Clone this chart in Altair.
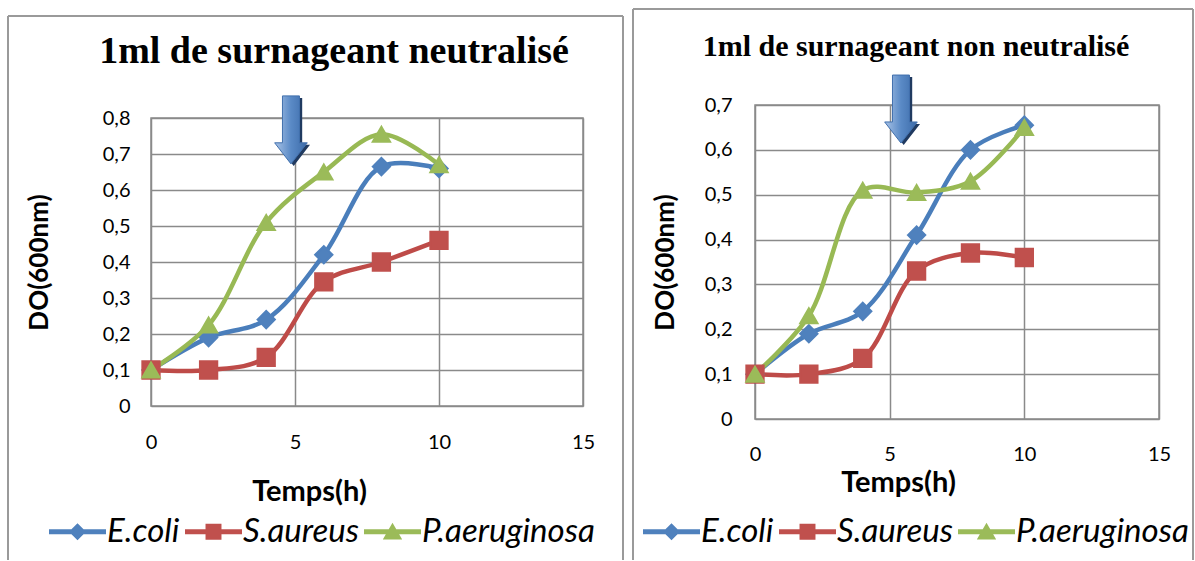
import altair as alt
import pandas as pd

# ---------------- data ----------------
times = [0, 2, 4, 6, 8, 10]
series = ["E.coli", "S.aureus", "P.aeruginosa"]

left_ecoli = [0.10, 0.19, 0.24, 0.42, 0.665, 0.66]
left_saureus = [0.10, 0.10, 0.135, 0.345, 0.40, 0.46]
left_paerug = [0.10, 0.225, 0.51, 0.65, 0.755, 0.67]

right_ecoli = [0.10, 0.19, 0.24, 0.41, 0.60, 0.655]
right_saureus = [0.10, 0.10, 0.135, 0.33, 0.37, 0.36]
right_paerug = [0.10, 0.23, 0.51, 0.505, 0.53, 0.65]

left_title = "1ml de surnageant neutralisé"
right_title = "1ml de surnageant non neutralisé"
x_title = "Temps(h)"
y_title = "DO(600nm)"

x_ticks = [0, 5, 10, 15]
left_y_ticks = [0, 0.1, 0.2, 0.3, 0.4, 0.5, 0.6, 0.7, 0.8]
right_y_ticks = [0, 0.1, 0.2, 0.3, 0.4, 0.5, 0.6, 0.7]

# arrow annotation (time, DO) where the arrow sits
left_arrow = [4.86, 0.767]
right_arrow = [5.42, 0.691]

# ---------------- styles ----------------
line_colors = ["#4A7EBB", "#BE4B48", "#98B954"]
marker_colors = ["#4F81BD", "#C0504D", "#9BBB59"]
marker_shapes = ["diamond", "square", "triangle-up"]
bar = "M-1,-0.09L1,-0.09L1,0.09L-1,0.09Z "
legend_shapes = [
    bar + "M-0.3,0L0,-0.3L0.3,0L0,0.3Z",
    bar + "M-0.28,-0.28L0.28,-0.28L0.28,0.28L-0.28,0.28Z",
    bar + "M0,-0.32L0.34,0.27L-0.34,0.27Z",
]
arrow_path = "M-0.25,-1L0.25,-1L0.25,0.38L0.48,0.38L0,1L-0.48,0.38L-0.25,0.38Z"
shadow_path = "M-0.17,-0.94L0.33,-0.94L0.33,0.44L0.56,0.44L0.08,1.06L-0.40,0.44L-0.17,0.44Z"
GRID = "#8a8a8a"
FRAME = "#9a9a9a"
FONT = "Lato"


def build_df(ec, sa, pa):
    rows = []
    for name, vals in zip(series, [ec, sa, pa]):
        for t, v in zip(times, vals):
            rows.append({"t": t, "v": v, "series": name})
    return pd.DataFrame(rows)


def panel(df, ymax, yticks, w, h, title, title_size, title_x, title_y,
          ylab_pad, ytitle_x, xlab_pad, xtitle_x, xtitle_y, legend_x, legend_y,
          arrow, arrow_size, frame):
    xs = alt.Scale(domain=[0, 15], nice=False, zero=False)
    ys = alt.Scale(domain=[0, ymax], nice=False, zero=True)
    xaxis = alt.Axis(values=x_ticks, tickCount=len(x_ticks), grid=True, gridColor=GRID,
                     gridWidth=1.5, domain=False, ticks=False, labelFont=FONT,
                     labelFontSize=20, labelColor="black", labelPadding=xlab_pad,
                     labelFlush=False, labelOverlap=False, title=x_title, titleFont=FONT,
                     titleFontSize=29, titleFontWeight="bold", titleColor="black",
                     titleX=xtitle_x, titleY=xtitle_y, titleBaseline="middle",
                     titleAlign="center")
    yaxis = alt.Axis(values=yticks, tickCount=len(yticks), grid=True, gridColor=GRID,
                     gridWidth=1.5, domain=False, ticks=False, labelFont=FONT,
                     labelFontSize=20, labelColor="black", labelPadding=ylab_pad,
                     labelFlush=False, labelOverlap=False,
                     labelExpr="replace(format(datum.value, '.1~f'), '.', ',')",
                     title=y_title, titleFont=FONT, titleFontSize=26,
                     titleFontWeight="bold", titleColor="black", titleX=ytitle_x,
                     titleY=h / 2, titleAngle=270, titleBaseline="middle",
                     titleAlign="center")
    X = alt.X("t:Q", scale=xs, axis=xaxis)
    Y = alt.Y("v:Q", scale=ys, axis=yaxis)
    base = alt.Chart(df)
    lines = base.mark_line(interpolate="catmull-rom", strokeWidth=4.5, strokeCap="round").encode(
        x=X, y=Y,
        color=alt.Color("series:N", scale=alt.Scale(domain=series, range=line_colors), legend=None),
        detail="series:N",
    )
    pts = base.mark_point(filled=True, opacity=1, size=300).encode(
        x=X, y=Y,
        fill=alt.Fill("series:N", scale=alt.Scale(domain=series, range=marker_colors), legend=None),
        stroke=alt.Stroke("series:N", scale=alt.Scale(domain=series, range=marker_colors), legend=None),
        shape=alt.Shape("series:N", scale=alt.Scale(domain=series, range=marker_shapes), legend=None),
    )
    leg = dict(orient="none", legendX=legend_x, legendY=legend_y, direction="horizontal",
               columns=3, title=None, symbolSize=3249, symbolStrokeWidth=0,
               symbolOpacity=1, labelFont=FONT, labelFontStyle="italic",
               labelFontSize=33, labelColor="black", labelOffset=1, columnPadding=5,
               labelLimit=400)
    legend_layer = alt.Chart(df).mark_point(filled=True, opacity=1, strokeWidth=0).encode(
        x=X, y=Y,
        color=alt.Color("series:N", scale=alt.Scale(domain=series, range=marker_colors),
                        legend=alt.Legend(**leg)),
        shape=alt.Shape("series:N", scale=alt.Scale(domain=series, range=legend_shapes),
                        legend=alt.Legend(**leg)),
    ).transform_filter(alt.datum.v < -1)

    adf = pd.DataFrame([{"t": arrow[0], "v": arrow[1]}])
    shadow = alt.Chart(adf).mark_point(shape=shadow_path, filled=True, fill="#203a60",
                                       opacity=1, strokeWidth=0, size=arrow_size).encode(
        x=X, y=Y)
    grad = alt.LinearGradient(gradient="linear", x1=0, x2=1, y1=0, y2=0,
                              stops=[alt.GradientStop(offset=0, color="#a9c3e6"),
                                     alt.GradientStop(offset=0.5, color="#5a8ac6"),
                                     alt.GradientStop(offset=1, color="#3b6aa8")])
    arrow_mark = alt.Chart(adf).mark_point(shape=arrow_path, filled=True, fill=grad,
                                           stroke="#4170ad", strokeWidth=1, opacity=1,
                                           size=arrow_size).encode(x=X, y=Y)

    one = pd.DataFrame([{"label": title}])
    ttl = alt.Chart(one).mark_text(font="Liberation Serif", fontSize=title_size,
                                   fontWeight="bold", color="black", align="center",
                                   baseline="alphabetic").encode(
        text="label:N", x=alt.value(title_x), y=alt.value(title_y))

    fx1, fx2, fy1, fy2 = frame
    fr = alt.Chart(one)
    f_left = fr.mark_rule(stroke=FRAME, strokeWidth=2).encode(
        x=alt.value(fx1), y=alt.value(fy1), y2=alt.value(fy2))
    f_right = fr.mark_rule(stroke=FRAME, strokeWidth=2).encode(
        x=alt.value(fx2), y=alt.value(fy1), y2=alt.value(fy2))
    f_top = fr.mark_rule(stroke=FRAME, strokeWidth=2).encode(
        x=alt.value(fx1), x2=alt.value(fx2), y=alt.value(fy1))

    return alt.layer(lines, pts, legend_layer, shadow, arrow_mark, ttl,
                     f_left, f_right, f_top).resolve_scale(
        shape="independent", color="independent"
    ).properties(width=w, height=h)


left = panel(build_df(left_ecoli, left_saureus, left_paerug), 0.8, left_y_ticks,
             432, 288, left_title, 38, 183, -55, 21, -112, 26, 158, 85,
             -102, 385, left_arrow, 4624, (-143, 472, -102, 442))
right = panel(build_df(right_ecoli, right_saureus, right_paerug), 0.7, right_y_ticks,
              404, 314, right_title, 30, 161, -49, 23, -90, 25, 143, 63,
              -112, 398, right_arrow, 4624, (-122, 438, -96, 455))

chart = alt.hconcat(left, right, spacing=172, center=True, bounds="flush").properties(
    padding={"left": 6, "top": 7, "right": 0, "bottom": 0},
    autosize=alt.AutoSizeParams(type="pad"),
    background="white",
).configure_view(stroke=GRID, strokeWidth=1.5)

chart.save("out.html", embed_options={"renderer": "svg", "actions": False})
